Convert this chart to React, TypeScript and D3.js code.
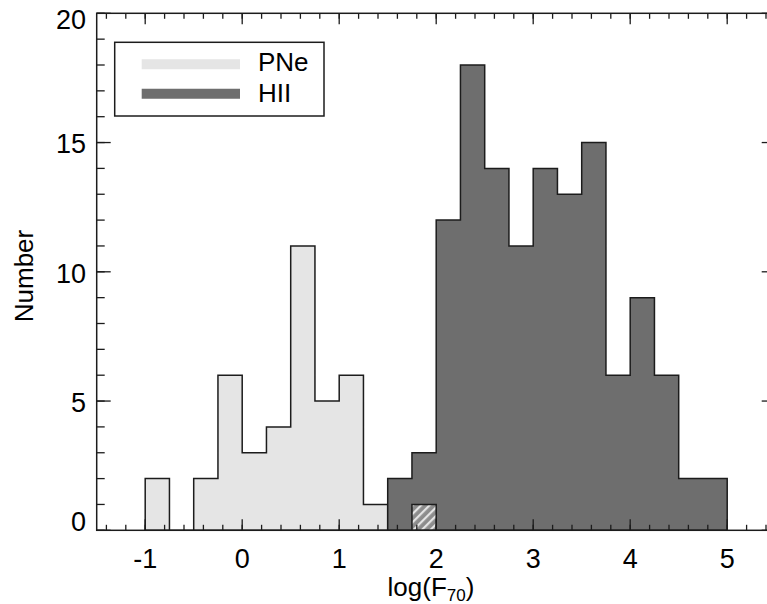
import React from "react";
import * as d3 from "d3";

// ---- data ----
const binWidth = 0.25;
const pneStart = -1.0;
const pneCounts = [2, 0, 2, 6, 3, 4, 11, 5, 6, 1];
const hiiStart = 1.5;
const hiiCounts = [2, 3, 12, 18, 14, 11, 14, 13, 15, 6, 9, 6, 2, 2];
const overlapStart = 1.75;
const overlapCounts = [1];
const xMajorTicks = [-1, 0, 1, 2, 3, 4, 5];
const yMajorTicks = [0, 5, 10, 15, 20];
const legendLabels = ["PNe", "HII"];

const W = 767;
const H = 604;
const left = 96.7;
const right = 775.7;
const top = 13.3;
const bottom = 530.3;

const FONT = "'Liberation Sans', Arial, Helvetica, sans-serif";
const INK = "#1c1c1c";

function stepPoints(start: number, counts: number[]): [number, number][] {
  const pts: [number, number][] = [[start, 0]];
  counts.forEach((c, i) => {
    pts.push([start + i * binWidth, c]);
    pts.push([start + (i + 1) * binWidth, c]);
  });
  pts.push([start + counts.length * binWidth, 0]);
  return pts;
}

export default function App() {
  const x = d3.scaleLinear().domain([-1.5, 5.5]).range([left, right]);
  const y = d3.scaleLinear().domain([0, 20]).range([bottom, top]);
  const line = d3
    .line<[number, number]>()
    .x((d) => x(d[0]))
    .y((d) => y(d[1]));

  const pnePath = line(stepPoints(pneStart, pneCounts)) + "Z";
  const hiiPath = line(stepPoints(hiiStart, hiiCounts)) + "Z";
  const ovPath = line(stepPoints(overlapStart, overlapCounts)) + "Z";

  const xMinor = d3.range(-1.4, 5.5, 0.2).map((v) => Math.round(v * 10) / 10);
  const yMinor = d3.range(0, 21, 1);

  const xMajLen = 11;
  const xMinLen = 5.5;
  const yMajLen = 14;
  const yMinLen = 8;

  return (
    <svg
      width={W}
      height={H}
      style={{ position: "absolute", left: 0, top: 0, background: "#fff" }}
      fontFamily={FONT}
    >
      <defs>
        <pattern
          id="hatch"
          width={6}
          height={6}
          patternUnits="userSpaceOnUse"
          patternTransform="rotate(45)"
        >
          <rect width={6} height={6} fill="#8c8c8c" />
          <rect width={2.2} height={6} fill="#e4e4e4" />
        </pattern>
      </defs>

      {/* histograms */}
      <path d={pnePath} fill="#e5e5e5" stroke={INK} strokeWidth={1.5} strokeLinejoin="miter" />
      <path d={hiiPath} fill="#6e6e6e" stroke={INK} strokeWidth={1.5} strokeLinejoin="miter" />
      <path d={ovPath} fill="url(#hatch)" stroke={INK} strokeWidth={1.5} />

      {/* axes box */}
      <rect
        x={left}
        y={top}
        width={right - left}
        height={bottom - top}
        fill="none"
        stroke={INK}
        strokeWidth={1.5}
      />

      {/* x ticks */}
      {xMinor.map((v) => (
        <g key={"xm" + v}>
          <line x1={x(v)} x2={x(v)} y1={bottom} y2={bottom - xMinLen} stroke={INK} strokeWidth={1.3} />
          <line x1={x(v)} x2={x(v)} y1={top} y2={top + xMinLen} stroke={INK} strokeWidth={1.3} />
        </g>
      ))}
      {xMajorTicks.map((v) => (
        <g key={"xM" + v}>
          <line x1={x(v)} x2={x(v)} y1={bottom} y2={bottom - xMajLen} stroke={INK} strokeWidth={1.3} />
          <line x1={x(v)} x2={x(v)} y1={top} y2={top + xMajLen} stroke={INK} strokeWidth={1.3} />
          <text x={x(v)} y={568} textAnchor="middle" fontSize={27} fill="#000">
            {String(v)}
          </text>
        </g>
      ))}

      {/* y ticks */}
      {yMinor.map((v) => (
        <g key={"ym" + v}>
          <line x1={left} x2={left + yMinLen} y1={y(v)} y2={y(v)} stroke={INK} strokeWidth={1.3} />
          <line x1={right} x2={right - yMinLen} y1={y(v)} y2={y(v)} stroke={INK} strokeWidth={1.3} />
        </g>
      ))}
      {yMajorTicks.map((v) => {
        const cy = Math.max(top + 6.2, Math.min(bottom - 9.3, y(v) + 1));
        return (
          <g key={"yM" + v}>
            <line x1={left} x2={left + yMajLen} y1={y(v)} y2={y(v)} stroke={INK} strokeWidth={1.3} />
            <line x1={right} x2={right - yMajLen} y1={y(v)} y2={y(v)} stroke={INK} strokeWidth={1.3} />
            <text x={86} y={cy + 9.8} textAnchor="end" fontSize={27} fill="#000">
              {String(v)}
            </text>
          </g>
        );
      })}

      {/* axis titles */}
      <text
        transform="translate(33,276) rotate(-90)"
        textAnchor="middle"
        fontSize={26}
        fill="#000"
      >
        Number
      </text>
      <text x={431} y={596} textAnchor="middle" fontSize={26} fill="#000">
        log(F
        <tspan fontSize={17} dy={5}>
          70
        </tspan>
        <tspan dy={-5}>)</tspan>
      </text>

      {/* legend */}
      <rect x={114.7} y={42.3} width={209.3} height={73.7} fill="#fff" stroke={INK} strokeWidth={1.5} />
      <line x1={141.7} x2={240} y1={64.3} y2={64.3} stroke="#e5e5e5" strokeWidth={10} />
      <line x1={141.7} x2={240} y1={93.7} y2={93.7} stroke="#6e6e6e" strokeWidth={10} />
      <text x={258} y={71} fontSize={26} fill="#000">
        {legendLabels[0]}
      </text>
      <text x={258} y={101.5} fontSize={26} fill="#000">
        {legendLabels[1]}
      </text>
    </svg>
  );
}
